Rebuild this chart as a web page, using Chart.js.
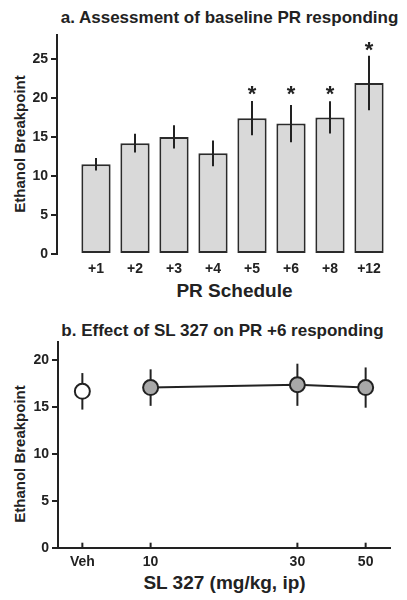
<!DOCTYPE html>
<html>
<head>
<meta charset="utf-8">
<script src="https://cdn.jsdelivr.net/npm/chart.js@4"></script>
<style>
  html, body { margin: 0; padding: 0; background: #fff; }
  #page { position: relative; width: 407px; height: 600px; overflow: hidden;
    font-family: "Liberation Sans", Arial, sans-serif; font-weight: bold; color: #222; }
  .title { position: absolute; white-space: nowrap; transform: translate(-50%, -50%); font-size: 17px; }
  .xtitle { position: absolute; white-space: nowrap; transform: translate(-50%, -50%); font-size: 19px; }
  .ytitle { position: absolute; white-space: nowrap; transform: translate(-50%, -50%) rotate(-90deg); font-size: 15px; }
  .box { position: absolute; left: 0; width: 407px; }
</style>
</head>
<body>
<div id="page">
  <div class="title" style="left:229.5px; top:18px">a. Assessment of baseline PR responding</div>
  <div class="ytitle" style="left:19px; top:144px">Ethanol Breakpoint</div>
  <div class="xtitle" style="left:234.5px; top:291px">PR Schedule</div>
  <div class="box" style="top:24px; height:282px"><canvas id="chartA"></canvas></div>

  <div class="title" style="left:222.5px; top:331px">b. Effect of SL 327 on PR +6 responding</div>
  <div class="ytitle" style="left:19px; top:454px">Ethanol Breakpoint</div>
  <div class="xtitle" style="left:224.5px; top:583px">SL 327 (mg/kg, ip)</div>
  <div class="box" style="top:320px; height:280px"><canvas id="chartB"></canvas></div>
</div>
<script>
// panel a: baseline PR responding
const scheduleLabels = ["+1", "+2", "+3", "+4", "+5", "+6", "+8", "+12"];
const schedulePositions = [1, 2, 3, 4, 5, 6, 7, 8];
const scheduleMeans = [11.5, 14.2, 15.0, 12.9, 17.4, 16.7, 17.5, 21.9];
const scheduleErrors = [0.8, 1.2, 1.5, 1.65, 2.2, 2.4, 2.05, 3.5];
// height (breakpoint units) of the significance star, null = no star
const starLevels = [null, null, null, null, 20.8, 20.8, 20.8, 26.4];
const yTicksA = [0, 5, 10, 15, 20, 25];

// panel b: SL 327 on PR +6 (Veh plotted left of 10 on the log dose axis)
const doseLabels = ["Veh", "10", "30", "50"];
const dosePositions = [6, 10, 30, 50];
const vehMean = [16.7];
const vehError = [1.95];
const drugMeans = [17.1, 17.4, 17.1];
const drugErrors = [1.95, 2.25, 2.15];
const yTicksB = [0, 5, 10, 15, 20];

const INK = "#222";
const TICK_FONT = { size: 14, weight: "bold" };
Chart.defaults.font.family = "'Liberation Sans', Arial, sans-serif";
Chart.defaults.font.weight = "bold";
Chart.defaults.font.size = 14;
Chart.defaults.color = INK;
Chart.defaults.animation = false;

const errorBarPlugin = {
  id: "errorBars",
  beforeDatasetsDraw(chart, args, opts) {
    if (opts.behind) drawErrorBars(chart, opts);
  },
  afterDatasetsDraw(chart, args, opts) {
    if (!opts.behind) drawErrorBars(chart, opts);
    if (opts.stars) drawStars(chart, opts);
    if (opts.insideTicks) drawInsideTicks(chart, opts.insideTicks);
  }
};

function drawErrorBars(chart, opts) {
  const ctx = chart.ctx;
  const yScale = chart.scales.y;
  ctx.save();
  ctx.strokeStyle = INK;
  ctx.lineWidth = 2;
  opts.series.forEach((s) => {
    const meta = chart.getDatasetMeta(s.datasetIndex);
    meta.data.forEach((el, i) => {
      const top = yScale.getPixelForValue(s.means[i] + s.errors[i]);
      const bottom = yScale.getPixelForValue(s.means[i] - s.errors[i]);
      ctx.beginPath();
      ctx.moveTo(el.x, top);
      ctx.lineTo(el.x, bottom);
      ctx.stroke();
    });
  });
  ctx.restore();
}

function drawStars(chart, opts) {
  const ctx = chart.ctx;
  const yScale = chart.scales.y;
  const meta = chart.getDatasetMeta(0);
  ctx.save();
  ctx.fillStyle = INK;
  ctx.font = "bold 22px 'Liberation Sans', Arial, sans-serif";
  ctx.textAlign = "center";
  ctx.textBaseline = "alphabetic";
  meta.data.forEach((el, i) => {
    if (opts.stars[i] === null) return;
    ctx.fillText("*", el.x, yScale.getPixelForValue(opts.stars[i]) + 9);
  });
  ctx.restore();
}

function drawInsideTicks(chart, length) {
  const ctx = chart.ctx;
  const xScale = chart.scales.x;
  ctx.save();
  ctx.strokeStyle = INK;
  ctx.lineWidth = 2;
  xScale.ticks.forEach((tick) => {
    const x = xScale.getPixelForValue(tick.value);
    ctx.beginPath();
    ctx.moveTo(x, xScale.top);
    ctx.lineTo(x, xScale.top - length);
    ctx.stroke();
  });
  ctx.restore();
}

function yAxis(max, ticks, width) {
  return {
    type: "linear",
    min: 0,
    max,
    afterBuildTicks(scale) {
      scale.ticks = ticks.map((value) => ({ value }));
    },
    afterFit(scale) {
      scale.width = width;
    },
    ticks: { padding: 3, font: TICK_FONT, color: INK },
    grid: { drawOnChartArea: false, drawTicks: true, tickLength: 6, color: INK, lineWidth: 2 },
    border: { display: true, color: INK, width: 2 }
  };
}

function xTicks(labels, positions, padding) {
  return {
    autoSkip: false,
    maxRotation: 0,
    padding,
    font: TICK_FONT,
    color: INK,
    callback(value) {
      return labels[positions.indexOf(value)];
    }
  };
}

new Chart(document.getElementById("chartA"), {
  type: "bar",
  data: {
    datasets: [{
      data: schedulePositions.map((x, i) => ({ x, y: scheduleMeans[i] })),
      backgroundColor: "#d9d9d9",
      borderColor: "#2b2b2b",
      borderWidth: 2,
      borderSkipped: false,
      barPercentage: 0.75,
      categoryPercentage: 1
    }]
  },
  options: {
    responsive: true,
    maintainAspectRatio: false,
    layout: { padding: { top: 7, right: 18.5, bottom: 0, left: 0 } },
    plugins: {
      legend: { display: false },
      tooltip: { enabled: false },
      errorBars: {
        behind: false,
        series: [{ datasetIndex: 0, means: scheduleMeans, errors: scheduleErrors }],
        stars: starLevels
      }
    },
    scales: {
      x: {
        type: "linear",
        offset: false,
        min: 0,
        max: 8.5,
        afterBuildTicks(scale) {
          scale.ticks = schedulePositions.map((value) => ({ value }));
        },
        afterFit(scale) {
          scale.height = 52;
        },
        ticks: xTicks(scheduleLabels, schedulePositions, 7),
        grid: { display: false, drawTicks: false },
        border: { display: false }
      },
      y: yAxis(28, yTicksA, 57)
    }
  },
  plugins: [errorBarPlugin]
});

new Chart(document.getElementById("chartB"), {
  type: "line",
  data: {
    datasets: [{
      data: [{ x: dosePositions[0], y: vehMean[0] }],
      showLine: false,
      pointRadius: 7.5,
      pointBackgroundColor: "#ffffff",
      pointBorderColor: INK,
      pointBorderWidth: 2
    }, {
      data: dosePositions.slice(1).map((x, i) => ({ x, y: drugMeans[i] })),
      borderColor: INK,
      borderWidth: 2,
      tension: 0,
      pointRadius: 7.5,
      pointBackgroundColor: "#a8a8a8",
      pointBorderColor: INK,
      pointBorderWidth: 2
    }]
  },
  options: {
    responsive: true,
    maintainAspectRatio: false,
    layout: { padding: { top: 21.7, right: 17, bottom: 0, left: 0 } },
    plugins: {
      legend: { display: false },
      tooltip: { enabled: false },
      errorBars: {
        behind: true,
        series: [
          { datasetIndex: 0, means: vehMean, errors: vehError },
          { datasetIndex: 1, means: drugMeans, errors: drugErrors }
        ],
        insideTicks: 5
      }
    },
    scales: {
      x: {
        type: "logarithmic",
        min: 5,
        max: 60,
        afterBuildTicks(scale) {
          scale.ticks = dosePositions.map((value) => ({ value }));
        },
        afterFit(scale) {
          scale.height = 52.3;
        },
        ticks: xTicks(doseLabels, dosePositions, 6),
        grid: { display: false, drawTicks: false },
        border: { display: true, color: INK, width: 2 }
      },
      y: yAxis(22, yTicksB, 58)
    }
  },
  plugins: [errorBarPlugin]
});
</script>
</body>
</html>
